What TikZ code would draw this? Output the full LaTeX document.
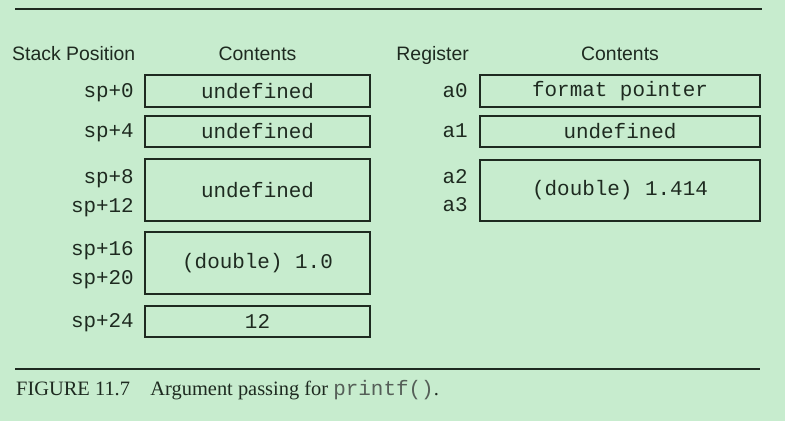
\documentclass[tikz,border=0pt]{standalone}
\usepackage{fontspec}
\setmainfont{Liberation Serif}
\setsansfont{Liberation Sans}
\setmonofont{Liberation Mono}
\usepackage{xcolor}
\usepackage{tikz}

\definecolor{bgGreen}{RGB}{199,236,206}
\definecolor{lineDark}{RGB}{30,42,32}
\definecolor{capGray}{RGB}{85,95,88}

\begin{document}
\begin{tikzpicture}[x=1bp, y=-1bp,
    cell/.style={draw=lineDark, line width=1.4bp, inner sep=0pt, text=lineDark,
                 font=\fontsize{21}{25}\selectfont\ttfamily},
    stackcell/.style={cell, minimum width=225bp},
    regcell/.style={cell, minimum width=280bp},
    lbl/.style={anchor=base east, inner sep=0pt, text=lineDark,
                font=\fontsize{21}{25}\selectfont\ttfamily},
    head/.style={inner sep=0pt, text=lineDark,
                 font=\fontsize{19.5}{23}\selectfont\sffamily},
    rule/.style={draw=lineDark, line width=2bp}]

    % --- LAYER 1: LATAR ---
    \fill[bgGreen] (0,0) rectangle (785,421);
    \useasboundingbox (0,0) rectangle (785,421);

    % --- LAYER 2: GARIS ATAS DAN BAWAH ---
    \draw[rule] (15,9) -- (762,9);
    \draw[rule] (15,369) -- (760,369);

    % --- LAYER 3: JUDUL KOLOM ---
    \node[head, anchor=base west] (hStack) at (12,60) {Stack Position};
    \node[head, anchor=base] (hContS) at (257.5,60) {Contents};
    \node[head, anchor=base east] (hReg) at (469,60) {Register};
    \node[head, anchor=base] (hContR) at (620,60) {Contents};

    % --- LAYER 4: STACK ---
    \node[stackcell, minimum height=32bp] (s0) at (257.5,91) {undefined};
    \node[stackcell, minimum height=31bp] (s1) at (257.5,131.5) {undefined};
    \node[stackcell, minimum height=62bp] (s2) at (257.5,190) {undefined};
    \node[stackcell, minimum height=62bp] (s3) at (257.5,263) {(double) 1.0};
    \node[stackcell, minimum height=31bp] (s4) at (257.5,321.5) {12};

    % Label posisi stack (rata kanan)
    \foreach \nm/\yy/\txt in {ls0/97/sp+0, ls1/137/sp+4, ls2/183/sp+8, ls3/212/sp+12,
                              ls4/255/sp+16, ls5/284/sp+20, ls6/327/sp+24} {
        \node[lbl] (\nm) at (134,\yy) {\txt};
    }

    % --- LAYER 5: REGISTER ---
    \node[regcell, minimum height=32bp] (r0) at (620,91) {format pointer};
    \node[regcell, minimum height=31bp] (r1) at (620,131.5) {undefined};
    \node[regcell, minimum height=61bp] (r2) at (620,190.5) {(double) 1.414};

    \foreach \nm/\yy/\txt in {lr0/97/a0, lr1/137/a1, lr2/183/a2, lr3/211/a3} {
        \node[lbl] (\nm) at (468,\yy) {\txt};
    }

    % --- LAYER 6: KETERANGAN GAMBAR ---
    \node[anchor=base west, inner sep=0pt, text=lineDark,
          font=\fontsize{20.5}{24}\selectfont] (cap) at (16,395)
        {FIGURE 11.7\quad Argument passing for
         {\fontsize{21}{24}\selectfont\ttfamily\color{capGray}printf()}.};

\end{tikzpicture}
\end{document}
